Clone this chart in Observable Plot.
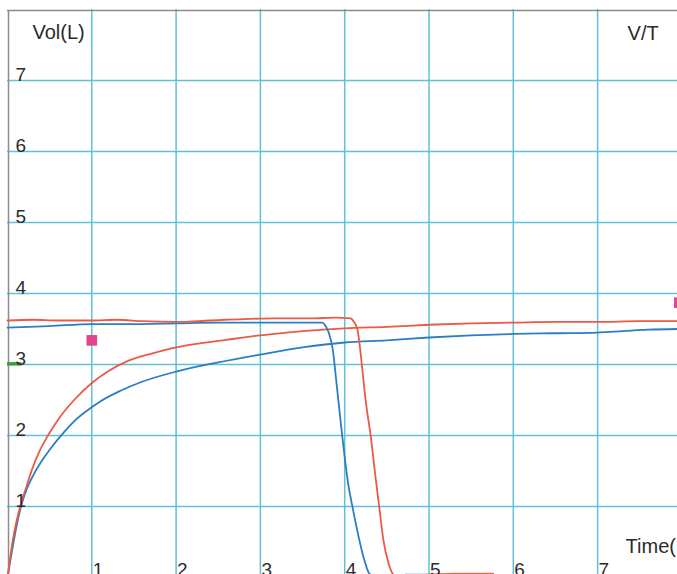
<!DOCTYPE html>
<html>
<head>
<meta charset="utf-8">
<script src="https://cdn.jsdelivr.net/npm/d3@7"></script>
<script src="https://cdn.jsdelivr.net/npm/@observablehq/plot@0.6"></script>
<style>
  html, body { margin: 0; padding: 0; background: #fff; overflow: hidden; }
  #chart svg { display: block; }
</style>
</head>
<body>
<div id="chart"></div>
<script>
// ---- Data (time in s, volume in L) ----
const gridTimes = [1, 2, 3, 4, 5, 6, 7];
const gridVols = [1, 2, 3, 4, 5, 6, 7];
const xTickLabels = ["1", "2", "3", "4", "5", "6", "7"];
const yTickLabels = ["1", "2", "3", "4", "5", "6", "7"];

// Red trial: rising volume-time curve
const redRiseT = [0, 0.04, 0.08, 0.12, 0.16, 0.23, 0.29, 0.38, 0.49, 0.61, 0.79, 1.0, 1.2, 1.43, 1.7, 2.0, 2.3, 2.61, 3.0, 3.5, 4.0, 4.5, 5.0, 5.5, 6.0, 6.5, 7.0, 7.5, 7.96];
const redRiseV = [0, 0.35, 0.64, 0.86, 1.04, 1.3, 1.52, 1.78, 2.02, 2.24, 2.5, 2.74, 2.91, 3.05, 3.15, 3.24, 3.3, 3.35, 3.41, 3.47, 3.51, 3.53, 3.56, 3.58, 3.59, 3.6, 3.6, 3.61, 3.61];
// Red trial: plateau then fall
const redFallT = [0, 0.3, 0.6, 1.0, 1.3, 1.6, 2.0, 2.4, 2.8, 3.2, 3.6, 3.9, 4.07, 4.11, 4.15, 4.18, 4.21, 4.25, 4.31, 4.37, 4.41, 4.46, 4.52, 4.58, 4.65];
const redFallV = [3.62, 3.63, 3.62, 3.62, 3.63, 3.61, 3.6, 3.62, 3.64, 3.65, 3.65, 3.66, 3.65, 3.6, 3.5, 3.25, 2.92, 2.48, 1.98, 1.37, 0.99, 0.52, 0.2, 0.04, 0.02];
const redTailT = [5.0, 5.3, 5.76];
const redTailV = [0.04, 0.05, 0.05];

// Blue trial: rising volume-time curve
const blueRiseT = [0, 0.05, 0.1, 0.16, 0.23, 0.31, 0.4, 0.5, 0.65, 0.79, 0.99, 1.1, 1.34, 1.58, 2.0, 2.5, 3.0, 3.5, 4.0, 4.5, 5.0, 5.5, 6.0, 6.5, 7.0, 7.3, 7.6, 7.96];
const blueRiseV = [0, 0.35, 0.68, 1.0, 1.25, 1.45, 1.63, 1.8, 2.02, 2.2, 2.39, 2.48, 2.63, 2.75, 2.9, 3.03, 3.14, 3.24, 3.31, 3.34, 3.38, 3.41, 3.43, 3.44, 3.45, 3.47, 3.49, 3.5];
// Blue trial: plateau then fall
const blueFallT = [0, 0.5, 1.0, 1.5, 2.0, 2.5, 3.0, 3.5, 3.73, 3.77, 3.81, 3.86, 3.9, 3.97, 4.04, 4.1, 4.16, 4.22, 4.28, 4.33];
const blueFallV = [3.52, 3.54, 3.57, 3.57, 3.58, 3.59, 3.59, 3.59, 3.59, 3.55, 3.45, 3.2, 2.77, 2.0, 1.33, 0.95, 0.6, 0.3, 0.08, 0.02];
const blueTailT = [4.72, 5.0];
const blueTailV = [0.04, 0.04];

// Markers
const markerT = [1.0, 7.97];
const markerV = [3.34, 3.87];
const greenTickV = [3.01];
const greenTickT = [0, 0.17];

const toPts = (T, V) => T.map((t, i) => ({t, v: V[i]}));

const RED = "#ea5a45";
const ORANGE = "#ef6a3a";
const BLUE = "#2c7dc3";
const GRID = "#5fc1d8";
const AXIS = "#8c8c8c";
const INK = "#2b2b2b";
const FONT = "'Liberation Sans', Arial, Helvetica, sans-serif";

const chart = Plot.plot({
  width: 677,
  height: 574,
  style: {fontFamily: FONT, background: "#ffffff", overflow: "hidden"},
  x: {domain: [0, 8], range: [7, 7 + 8 * 84.3], axis: null},
  y: {domain: [0, 8], range: [577, 9], axis: null},
  marks: [
    Plot.ruleY(gridVols, {x1: 0, x2: 8, stroke: GRID, strokeWidth: 1.5}),
    Plot.ruleX(gridTimes, {y1: 0, y2: 8, stroke: GRID, strokeWidth: 1.5}),
    Plot.ruleY([8], {x1: 0, x2: 8, stroke: AXIS, strokeWidth: 1.5, dy: 1}),
    Plot.ruleX([0], {y1: -1, y2: 8, stroke: AXIS, strokeWidth: 1.5, dx: 1, dy: 1}),
    Plot.ruleY(greenTickV, {x1: greenTickT[0], x2: greenTickT[1], stroke: "#3d9e3d", strokeWidth: 3.5}),
    Plot.line(toPts(blueRiseT, blueRiseV), {x: "t", y: "v", stroke: BLUE, strokeWidth: 1.8, curve: "monotone-x"}),
    Plot.line(toPts(redRiseT, redRiseV), {x: "t", y: "v", stroke: RED, strokeWidth: 1.8, curve: "monotone-x"}),
    Plot.line(toPts(blueFallT, blueFallV), {x: "t", y: "v", stroke: BLUE, strokeWidth: 1.8, curve: "monotone-x"}),
    Plot.line(toPts(redFallT, redFallV), {x: "t", y: "v", stroke: RED, strokeWidth: 1.8, curve: "monotone-x"}),
    Plot.line(toPts(blueTailT, blueTailV), {x: "t", y: "v", stroke: BLUE, strokeWidth: 1.8}),
    Plot.line(toPts(redTailT, redTailV), {x: "t", y: "v", stroke: ORANGE, strokeWidth: 2.2}),
    Plot.dot(toPts(markerT, markerV), {x: "t", y: "v", symbol: "square", r: 6, fill: "#e2458c", stroke: "none"}),
    Plot.text(yTickLabels, {x: 0, y: (d) => +d, text: (d) => d, dx: 8, dy: -6, textAnchor: "start", fontSize: 19, fill: INK}),
    Plot.text(xTickLabels, {x: (d) => +d, y: 0, text: (d) => d, dx: 1, dy: -8, textAnchor: "start", fontSize: 19, fill: INK}),
    Plot.text(["Vol(L)"], {x: 0, y: 8, text: (d) => d, dx: 25, dy: 23, textAnchor: "start", fontSize: 20, fill: INK}),
    Plot.text(["V/T"], {x: 7, y: 8, text: (d) => d, dx: 30, dy: 24, textAnchor: "start", fontSize: 20, fill: INK}),
    Plot.text(["Time("], {x: 7, y: 0, text: (d) => d, dx: 28, dy: -31, textAnchor: "start", fontSize: 20, fill: INK})
  ]
});
document.getElementById("chart").appendChild(chart);
</script>
</body>
</html>
